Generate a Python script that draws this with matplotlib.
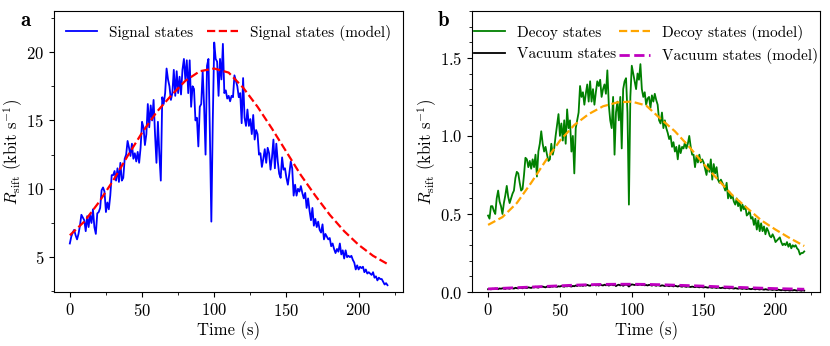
import matplotlib
matplotlib.use("Agg")
import matplotlib.pyplot as plt
from matplotlib.ticker import MultipleLocator
import numpy as np

plt.rcParams['font.family'] = 'cmr10'
plt.rcParams['mathtext.fontset'] = 'cm'
plt.rcParams['axes.formatter.use_mathtext'] = True
plt.rcParams['font.size'] = 12
plt.rcParams['legend.fontsize'] = 11

# measured sift rates (kbit/s), one sample per second
signal = [
    6.0, 6.5, 6.8, 7.0, 6.6, 6.3, 6.7, 7.3, 8.1, 7.9,
    7.7, 6.9, 8.0, 7.2, 8.1, 7.5, 8.5, 7.2, 6.7, 8.2,
    8.3, 8.6, 9.9, 10.1, 9.8, 8.3, 9.0, 8.5, 9.5, 11.0,
    11.0, 11.3, 10.6, 11.5, 10.5, 11.9, 10.6, 10.8, 12.2, 12.5,
    13.5, 13.0, 12.4, 13.3, 12.2, 12.6, 12.0, 12.7, 11.9, 13.0,
    14.9, 14.5, 13.2, 14.0, 16.2, 14.5, 16.1, 15.0, 16.5, 14.0,
    11.9, 14.9, 12.5, 10.6, 16.7, 16.2, 17.0, 18.8, 18.0, 17.5,
    16.5, 17.0, 18.7, 16.8, 18.6, 17.0, 18.2, 16.9, 18.7, 19.5,
    18.0, 19.4, 17.0, 19.4, 16.0, 17.5, 17.3, 15.0, 15.2, 13.1,
    16.0, 16.2, 18.6, 16.0, 12.5, 19.0, 19.5, 14.0, 7.6, 15.0,
    20.7, 19.5, 19.3, 16.8, 19.5, 18.0, 20.6, 17.0, 17.2, 16.6,
    16.8, 16.4, 16.8, 16.7, 18.3, 17.9, 17.5, 16.7, 17.0, 14.8,
    18.1, 15.2, 14.6, 15.8, 14.6, 15.1, 14.0, 15.4, 13.6, 14.3,
    14.0, 12.5, 12.6, 11.6, 12.2, 12.9, 11.9, 13.0, 12.6, 11.4,
    12.3, 13.6, 11.5, 13.3, 12.0, 11.1, 10.8, 12.3, 11.4, 11.5,
    10.8, 10.3, 11.1, 12.0, 11.5, 9.5, 10.3, 9.5, 10.0, 9.8,
    10.2, 9.7, 9.3, 9.7, 8.6, 9.3, 8.4, 7.7, 8.6, 7.3,
    7.8, 7.2, 7.6, 7.0, 6.8, 7.4, 6.3, 6.7, 6.5, 6.3,
    6.4, 5.8, 6.0, 5.6, 5.3, 5.6, 5.4, 6.0, 5.2, 5.5,
    4.9, 5.5, 5.0, 5.1, 5.0, 5.1, 4.8, 4.6, 4.1, 4.4,
    4.1, 4.3, 4.2, 4.3, 3.9, 4.1, 3.8, 3.9, 3.8, 3.7,
    3.9, 3.5, 3.6, 3.3, 3.5, 3.4, 3.4, 3.2, 3.0, 3.1,
    2.95,
]

decoy = [
    0.49, 0.47, 0.55, 0.55, 0.52, 0.50, 0.60, 0.65, 0.58, 0.55,
    0.50, 0.57, 0.62, 0.68, 0.61, 0.57, 0.60, 0.63, 0.65, 0.73,
    0.77, 0.76, 0.70, 0.65, 0.66, 0.75, 0.86, 0.85, 0.80, 0.84,
    0.79, 0.85, 0.80, 0.88, 0.74, 0.90, 0.95, 1.03, 0.95, 0.90,
    0.93, 0.88, 0.84, 0.85, 0.95, 0.88, 0.92, 1.00, 1.07, 1.14,
    1.00, 1.08, 0.97, 1.10, 0.95, 1.17, 1.05, 1.10, 0.90, 1.00,
    0.76, 1.05, 1.10, 1.15, 1.32, 1.25, 1.28, 1.20, 1.27, 1.33,
    1.22, 1.35, 1.22, 1.30, 1.20, 1.28, 1.35, 1.32, 1.36, 1.25,
    1.30, 1.33, 1.27, 1.42, 1.20, 1.10, 1.05, 1.25, 0.88, 1.15,
    1.22, 1.10, 1.25, 0.92, 1.30, 1.35, 1.37, 1.15, 0.56, 1.25,
    1.45, 1.40, 1.35, 1.30, 1.40, 1.36, 1.46, 1.30, 1.25, 1.28,
    1.20, 1.24, 1.25, 1.18, 1.26, 1.22, 1.27, 1.23, 1.20, 1.10,
    1.08, 1.15, 1.05, 1.10, 1.05, 1.02, 0.98, 1.00, 0.93, 0.96,
    0.90, 0.93, 0.85, 0.94, 0.89, 0.93, 0.92, 0.96, 0.92, 0.95,
    1.00, 0.93, 0.88, 0.88, 0.80, 0.87, 0.83, 0.88, 0.83, 0.85,
    0.83, 0.79, 0.75, 0.82, 0.77, 0.85, 0.72, 0.82, 0.76, 0.80,
    0.72, 0.70, 0.72, 0.70, 0.68, 0.65, 0.70, 0.60, 0.64, 0.60,
    0.62, 0.58, 0.56, 0.60, 0.55, 0.58, 0.52, 0.56, 0.53, 0.55,
    0.49, 0.50, 0.52, 0.47, 0.48, 0.43, 0.47, 0.40, 0.46, 0.39,
    0.44, 0.39, 0.42, 0.37, 0.41, 0.39, 0.36, 0.35, 0.37, 0.35,
    0.32, 0.33, 0.34, 0.35, 0.32, 0.30, 0.31, 0.30, 0.32, 0.29,
    0.31, 0.28, 0.30, 0.29, 0.30, 0.28, 0.27, 0.24, 0.25, 0.25,
    0.26,
]

vacuum = [
    0.018, 0.020, 0.017, 0.021, 0.019, 0.022, 0.020, 0.018, 0.023, 0.021,
    0.024, 0.022, 0.020, 0.025, 0.023, 0.021, 0.026, 0.024, 0.022, 0.027,
    0.025, 0.023, 0.028, 0.026, 0.024, 0.029, 0.027, 0.025, 0.030, 0.028,
    0.026, 0.031, 0.029, 0.034, 0.030, 0.028, 0.033, 0.031, 0.035, 0.032,
    0.030, 0.035, 0.033, 0.031, 0.036, 0.034, 0.038, 0.035, 0.033, 0.037,
    0.035, 0.039, 0.036, 0.034, 0.038, 0.036, 0.040, 0.037, 0.035, 0.039,
    0.037, 0.042, 0.038, 0.045, 0.040, 0.043, 0.039, 0.044, 0.041, 0.046,
    0.042, 0.040, 0.045, 0.043, 0.047, 0.042, 0.045, 0.041, 0.046, 0.044,
    0.042, 0.047, 0.043, 0.046, 0.041, 0.045, 0.048, 0.043, 0.046, 0.038,
    0.044, 0.047, 0.042, 0.046, 0.040, 0.045, 0.048, 0.044, 0.035, 0.043,
    0.049, 0.047, 0.045, 0.048, 0.044, 0.047, 0.049, 0.044, 0.046, 0.043,
    0.045, 0.042, 0.046, 0.044, 0.041, 0.045, 0.043, 0.040, 0.044, 0.042,
    0.039, 0.043, 0.041, 0.038, 0.042, 0.040, 0.037, 0.041, 0.039, 0.036,
    0.040, 0.038, 0.035, 0.039, 0.036, 0.034, 0.038, 0.035, 0.033, 0.036,
    0.034, 0.032, 0.035, 0.033, 0.031, 0.034, 0.032, 0.030, 0.033, 0.031,
    0.029, 0.032, 0.030, 0.028, 0.031, 0.029, 0.027, 0.030, 0.028, 0.026,
    0.029, 0.027, 0.025, 0.028, 0.026, 0.024, 0.027, 0.025, 0.023, 0.026,
    0.024, 0.022, 0.025, 0.023, 0.021, 0.024, 0.022, 0.020, 0.023, 0.021,
    0.019, 0.022, 0.020, 0.018, 0.021, 0.019, 0.017, 0.020, 0.018, 0.016,
    0.019, 0.017, 0.015, 0.018, 0.016, 0.014, 0.017, 0.015, 0.013, 0.016,
    0.014, 0.012, 0.015, 0.013, 0.011, 0.014, 0.012, 0.010, 0.013, 0.011,
    0.009, 0.012, 0.010, 0.013, 0.011, 0.009, 0.012, 0.010, 0.008, 0.011,
    0.009,
]

# model curves, read every 10 s
model_t = [0, 10, 20, 30, 40, 50, 60, 70, 80, 90, 100, 110,
           120, 130, 140, 150, 160, 170, 180, 190, 200, 210, 220]
signal_model = [6.6, 7.6, 9.0, 10.6, 12.4, 14.1, 15.6, 16.8, 17.9, 18.6, 18.8, 18.5,
                17.4, 16.0, 14.4, 12.7, 11.0, 9.5, 8.1, 6.9, 5.9, 5.1, 4.5]
decoy_model = [0.43, 0.48, 0.57, 0.70, 0.84, 0.97, 1.07, 1.14, 1.19, 1.215, 1.22, 1.195,
               1.11, 1.03, 0.93, 0.82, 0.72, 0.62, 0.54, 0.46, 0.40, 0.345, 0.295]
vacuum_model = [0.020, 0.024, 0.028, 0.032, 0.036, 0.040, 0.044, 0.047, 0.049, 0.050, 0.050, 0.049,
                0.047, 0.044, 0.041, 0.038, 0.034, 0.031, 0.028, 0.025, 0.022, 0.020, 0.018]

fig = plt.figure(figsize=(8.3, 3.46), dpi=100)
ax1 = fig.add_axes([0.065, 0.156, 0.421, 0.812])
ax2 = fig.add_axes([0.569, 0.156, 0.419, 0.812])

ylab = r"$R_{\mathrm{sift}}$ (kbit s$^{-1}$)"

ax1.plot(np.arange(len(signal)), signal, color="b", lw=1.3, label="Signal states")
ax1.plot(model_t, signal_model, "r--", lw=1.6, label="Signal states (model)")
ax1.set_ylim(2.45, 23.0)
ax1.yaxis.set_major_locator(MultipleLocator(5))
ax1.yaxis.set_minor_locator(MultipleLocator(2.5))
ax1.legend(loc="upper center", ncol=2, frameon=False, columnspacing=0.9)

ax2.plot(np.arange(len(decoy)), decoy, color="g", lw=1.3, label="Decoy states")
ax2.plot(np.arange(len(vacuum)), vacuum, color="k", lw=1.3, label="Vacuum states")
ax2.plot(model_t, decoy_model, "--", color="orange", lw=1.6, label="Decoy states (model)")
ax2.plot(model_t, vacuum_model, "m--", lw=2.0, label="Vacuum states (model)")
ax2.set_ylim(0, 1.8)
ax2.yaxis.set_major_locator(MultipleLocator(0.5))
ax2.yaxis.set_minor_locator(MultipleLocator(0.1))
ax2.legend(loc="upper center", ncol=2, frameon=False, columnspacing=0.2)

for ax in (ax1, ax2):
    ax.set_xlim(-11, 231)
    ax.xaxis.set_major_locator(MultipleLocator(50))
    ax.xaxis.set_minor_locator(MultipleLocator(25))
    ax.set_xlabel("Time (s)", labelpad=2)
    ax.set_ylabel(ylab)

ax1.yaxis.set_label_coords(-0.082, 0.5)
ax2.yaxis.set_label_coords(-0.097, 0.5)

fig.text(0.024, 0.925, "a", fontfamily="cmb10", fontsize=15)
fig.text(0.527, 0.925, "b", fontfamily="cmb10", fontsize=15)

fig.savefig("out.png", dpi=100)
